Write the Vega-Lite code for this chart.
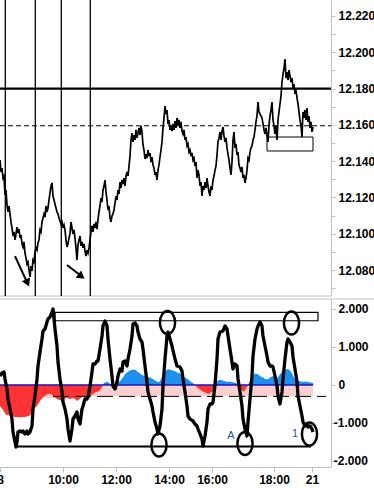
{
"$schema": "https://vega.github.io/schema/vega-lite/v6.json",
"width": 331, "height": 467,
"autosize": {"type": "none"},
"padding": {"left": 0, "top": 0, "right": 43, "bottom": 21},
"background": "white",
"config": {"view": {"stroke": null}, "axis": {"grid": false, "domainColor": "#bfbfbf", "tickColor": "#bfbfbf", "labelFont": "Liberation Sans", "labelFontWeight": "bold", "labelFontSize": 12, "labelColor": "#000000"}},
"datasets": {
"price": [{"x":0,"p":12.1406},{"x":1,"p":12.134},{"x":2,"p":12.1362},{"x":3,"p":12.1307},{"x":4,"p":12.1318},{"x":5,"p":12.1214},{"x":6,"p":12.1241},{"x":7,"p":12.1158},{"x":8,"p":12.112},{"x":9,"p":12.1153},{"x":10,"p":12.1109},{"x":11,"p":12.1065},{"x":12,"p":12.1032},{"x":13,"p":12.0988},{"x":14,"p":12.101},{"x":15,"p":12.0966},{"x":16,"p":12.0999},{"x":17,"p":12.1037},{"x":18,"p":12.1004},{"x":19,"p":12.1026},{"x":20,"p":12.0977},{"x":21,"p":12.0993},{"x":22,"p":12.0944},{"x":23,"p":12.0927},{"x":24,"p":12.0955},{"x":25,"p":12.0894},{"x":26,"p":12.0866},{"x":27,"p":12.0833},{"x":28,"p":12.0844},{"x":29,"p":12.08},{"x":30,"p":12.0762},{"x":31,"p":12.0822},{"x":32,"p":12.0795},{"x":33,"p":12.0855},{"x":34,"p":12.0844},{"x":35,"p":12.0899},{"x":36,"p":12.0922},{"x":37,"p":12.091},{"x":38,"p":12.0949},{"x":39,"p":12.0966},{"x":40,"p":12.1021},{"x":41,"p":12.101},{"x":42,"p":12.1065},{"x":43,"p":12.1087},{"x":44,"p":12.1109},{"x":45,"p":12.1092},{"x":46,"p":12.1153},{"x":47,"p":12.112},{"x":48,"p":12.1142},{"x":49,"p":12.1186},{"x":50,"p":12.1225},{"x":51,"p":12.1263},{"x":52,"p":12.128},{"x":53,"p":12.1208},{"x":54,"p":12.1186},{"x":55,"p":12.1164},{"x":56,"p":12.1142},{"x":57,"p":12.112},{"x":58,"p":12.1109},{"x":59,"p":12.1087},{"x":60,"p":12.107},{"x":61,"p":12.1054},{"x":62,"p":12.1065},{"x":63,"p":12.1032},{"x":64,"p":12.1048},{"x":65,"p":12.1021},{"x":66,"p":12.0966},{"x":67,"p":12.0927},{"x":68,"p":12.0944},{"x":69,"p":12.0977},{"x":70,"p":12.0999},{"x":71,"p":12.1065},{"x":72,"p":12.1032},{"x":73,"p":12.0999},{"x":74,"p":12.1021},{"x":75,"p":12.0977},{"x":76,"p":12.0922},{"x":77,"p":12.0855},{"x":78,"p":12.0938},{"x":79,"p":12.0966},{"x":80,"p":12.0988},{"x":81,"p":12.0933},{"x":82,"p":12.0955},{"x":83,"p":12.0922},{"x":84,"p":12.0944},{"x":85,"p":12.0905},{"x":86,"p":12.0877},{"x":87,"p":12.091},{"x":88,"p":12.0894},{"x":89,"p":12.0922},{"x":90,"p":12.0966},{"x":91,"p":12.101},{"x":92,"p":12.1043},{"x":93,"p":12.101},{"x":94,"p":12.1054},{"x":95,"p":12.1032},{"x":96,"p":12.1065},{"x":97,"p":12.1026},{"x":98,"p":12.1076},{"x":99,"p":12.112},{"x":100,"p":12.1153},{"x":101,"p":12.1197},{"x":102,"p":12.1175},{"x":103,"p":12.1241},{"x":104,"p":12.1263},{"x":105,"p":12.1296},{"x":106,"p":12.123},{"x":107,"p":12.1186},{"x":108,"p":12.1131},{"x":109,"p":12.1153},{"x":110,"p":12.1087},{"x":111,"p":12.1065},{"x":112,"p":12.1098},{"x":113,"p":12.1109},{"x":114,"p":12.1131},{"x":115,"p":12.1169},{"x":116,"p":12.1208},{"x":117,"p":12.1186},{"x":118,"p":12.1241},{"x":119,"p":12.1219},{"x":120,"p":12.1285},{"x":121,"p":12.1252},{"x":122,"p":12.1296},{"x":123,"p":12.1274},{"x":124,"p":12.1307},{"x":125,"p":12.1263},{"x":126,"p":12.1318},{"x":127,"p":12.134},{"x":128,"p":12.1318},{"x":129,"p":12.1373},{"x":130,"p":12.1428},{"x":131,"p":12.1517},{"x":132,"p":12.1555},{"x":133,"p":12.1506},{"x":134,"p":12.1544},{"x":135,"p":12.1517},{"x":136,"p":12.1572},{"x":137,"p":12.1528},{"x":138,"p":12.1555},{"x":139,"p":12.1583},{"x":140,"p":12.1544},{"x":141,"p":12.1594},{"x":142,"p":12.1561},{"x":143,"p":12.1489},{"x":144,"p":12.1461},{"x":145,"p":12.1412},{"x":146,"p":12.1439},{"x":147,"p":12.1417},{"x":148,"p":12.1461},{"x":149,"p":12.1428},{"x":150,"p":12.1445},{"x":151,"p":12.1395},{"x":152,"p":12.1423},{"x":153,"p":12.1379},{"x":154,"p":12.1362},{"x":155,"p":12.1324},{"x":156,"p":12.134},{"x":157,"p":12.1296},{"x":158,"p":12.1351},{"x":159,"p":12.1379},{"x":160,"p":12.1423},{"x":161,"p":12.1461},{"x":162,"p":12.1506},{"x":163,"p":12.1583},{"x":164,"p":12.1638},{"x":165,"p":12.1704},{"x":166,"p":12.166},{"x":167,"p":12.1682},{"x":168,"p":12.1605},{"x":169,"p":12.1627},{"x":170,"p":12.1572},{"x":171,"p":12.1594},{"x":172,"p":12.1566},{"x":173,"p":12.1605},{"x":174,"p":12.1572},{"x":175,"p":12.1621},{"x":176,"p":12.1583},{"x":177,"p":12.1638},{"x":178,"p":12.1599},{"x":179,"p":12.1627},{"x":180,"p":12.1583},{"x":181,"p":12.1616},{"x":182,"p":12.1566},{"x":183,"p":12.155},{"x":184,"p":12.1572},{"x":185,"p":12.1517},{"x":186,"p":12.1533},{"x":187,"p":12.1484},{"x":188,"p":12.1495},{"x":189,"p":12.145},{"x":190,"p":12.1461},{"x":191,"p":12.1428},{"x":192,"p":12.1445},{"x":193,"p":12.1406},{"x":194,"p":12.1417},{"x":195,"p":12.1373},{"x":196,"p":12.1395},{"x":197,"p":12.1307},{"x":198,"p":12.1351},{"x":199,"p":12.1324},{"x":200,"p":12.1263},{"x":201,"p":12.1285},{"x":202,"p":12.1208},{"x":203,"p":12.1263},{"x":204,"p":12.1241},{"x":205,"p":12.1285},{"x":206,"p":12.1252},{"x":207,"p":12.1307},{"x":208,"p":12.1263},{"x":209,"p":12.123},{"x":210,"p":12.1208},{"x":211,"p":12.1263},{"x":212,"p":12.1241},{"x":213,"p":12.1296},{"x":214,"p":12.1318},{"x":215,"p":12.1351},{"x":216,"p":12.1373},{"x":217,"p":12.1434},{"x":218,"p":12.1506},{"x":219,"p":12.1528},{"x":220,"p":12.1561},{"x":221,"p":12.1517},{"x":222,"p":12.1566},{"x":223,"p":12.1588},{"x":224,"p":12.1539},{"x":225,"p":12.1506},{"x":226,"p":12.1528},{"x":227,"p":12.1473},{"x":228,"p":12.1439},{"x":229,"p":12.1406},{"x":230,"p":12.1362},{"x":231,"p":12.1324},{"x":232,"p":12.1395},{"x":233,"p":12.1517},{"x":234,"p":12.1561},{"x":235,"p":12.1473},{"x":236,"p":12.1495},{"x":237,"p":12.1434},{"x":238,"p":12.145},{"x":239,"p":12.1379},{"x":240,"p":12.1362},{"x":241,"p":12.134},{"x":242,"p":12.1368},{"x":243,"p":12.1307},{"x":244,"p":12.1324},{"x":245,"p":12.128},{"x":246,"p":12.1307},{"x":247,"p":12.1351},{"x":248,"p":12.1417},{"x":249,"p":12.1406},{"x":250,"p":12.145},{"x":251,"p":12.1473},{"x":252,"p":12.1484},{"x":253,"p":12.1517},{"x":254,"p":12.1533},{"x":255,"p":12.1572},{"x":256,"p":12.1616},{"x":257,"p":12.1649},{"x":258,"p":12.1726},{"x":259,"p":12.1671},{"x":260,"p":12.166},{"x":261,"p":12.1649},{"x":262,"p":12.1638},{"x":263,"p":12.1605},{"x":264,"p":12.1572},{"x":265,"p":12.155},{"x":266,"p":12.1583},{"x":267,"p":12.1539},{"x":268,"p":12.1506},{"x":269,"p":12.1599},{"x":270,"p":12.1649},{"x":271,"p":12.1682},{"x":272,"p":12.1726},{"x":273,"p":12.1627},{"x":274,"p":12.1594},{"x":275,"p":12.155},{"x":276,"p":12.1594},{"x":277,"p":12.1517},{"x":278,"p":12.1627},{"x":279,"p":12.1671},{"x":280,"p":12.1715},{"x":281,"p":12.1759},{"x":282,"p":12.1836},{"x":283,"p":12.188},{"x":284,"p":12.1913},{"x":285,"p":12.1963},{"x":286,"p":12.1858},{"x":287,"p":12.1891},{"x":288,"p":12.1847},{"x":289,"p":12.1902},{"x":290,"p":12.1869},{"x":291,"p":12.1836},{"x":292,"p":12.1858},{"x":293,"p":12.1803},{"x":294,"p":12.1825},{"x":295,"p":12.177},{"x":296,"p":12.1792},{"x":297,"p":12.1748},{"x":298,"p":12.1715},{"x":299,"p":12.1671},{"x":300,"p":12.1627},{"x":301,"p":12.1594},{"x":302,"p":12.1533},{"x":303,"p":12.1671},{"x":304,"p":12.1638},{"x":305,"p":12.1682},{"x":306,"p":12.1627},{"x":307,"p":12.1693},{"x":308,"p":12.1616},{"x":309,"p":12.1649},{"x":310,"p":12.1583},{"x":311,"p":12.1616},{"x":312,"p":12.1561},{"x":313,"p":12.1588}],
"osc": [{"x":0,"v":0.237},{"x":2,"v":0.316},{"x":4,"v":0.342},{"x":5,"v":0.158},{"x":7,"v":-0.105},{"x":8,"v":-0.368},{"x":10,"v":-0.632},{"x":12,"v":-0.895},{"x":13,"v":-1.237},{"x":15,"v":-1.5},{"x":16,"v":-1.632},{"x":17,"v":-1.5},{"x":18,"v":-1.237},{"x":20,"v":-1.211},{"x":22,"v":-1.237},{"x":23,"v":-1.211},{"x":25,"v":-1.289},{"x":27,"v":-1.211},{"x":28,"v":-1.289},{"x":30,"v":-1.237},{"x":32,"v":-1.079},{"x":33,"v":-0.632},{"x":35,"v":-0.289},{"x":37,"v":0.158},{"x":38,"v":0.5},{"x":40,"v":0.868},{"x":42,"v":1.211},{"x":43,"v":1.421},{"x":45,"v":1.474},{"x":47,"v":1.658},{"x":48,"v":1.737},{"x":50,"v":1.789},{"x":52,"v":1.921},{"x":53,"v":2.0},{"x":54,"v":1.737},{"x":55,"v":1.474},{"x":57,"v":1.026},{"x":58,"v":0.605},{"x":60,"v":0.158},{"x":62,"v":-0.184},{"x":63,"v":-0.447},{"x":65,"v":-0.632},{"x":67,"v":-0.895},{"x":68,"v":-1.158},{"x":70,"v":-1.474},{"x":72,"v":-1.158},{"x":73,"v":-0.895},{"x":75,"v":-0.816},{"x":77,"v":-0.711},{"x":78,"v":-0.895},{"x":80,"v":-1.026},{"x":82,"v":-0.632},{"x":83,"v":-0.553},{"x":85,"v":-0.368},{"x":87,"v":-0.368},{"x":88,"v":-0.316},{"x":90,"v":-0.026},{"x":92,"v":0.342},{"x":93,"v":0.553},{"x":95,"v":0.553},{"x":97,"v":0.632},{"x":98,"v":0.632},{"x":100,"v":0.947},{"x":102,"v":1.289},{"x":103,"v":1.553},{"x":105,"v":1.684},{"x":107,"v":1.553},{"x":108,"v":1.211},{"x":110,"v":0.684},{"x":112,"v":0.237},{"x":113,"v":-0.026},{"x":115,"v":-0.105},{"x":117,"v":0.079},{"x":118,"v":0.237},{"x":120,"v":0.421},{"x":122,"v":0.368},{"x":123,"v":0.605},{"x":125,"v":0.632},{"x":127,"v":0.5},{"x":128,"v":0.684},{"x":130,"v":0.947},{"x":132,"v":1.289},{"x":133,"v":1.605},{"x":135,"v":1.632},{"x":137,"v":1.553},{"x":138,"v":1.395},{"x":140,"v":1.211},{"x":142,"v":1.132},{"x":143,"v":0.947},{"x":145,"v":0.5},{"x":147,"v":0.079},{"x":148,"v":-0.184},{"x":150,"v":-0.368},{"x":152,"v":-0.553},{"x":153,"v":-0.711},{"x":155,"v":-0.974},{"x":157,"v":-1.158},{"x":158,"v":-1.289},{"x":160,"v":-1.079},{"x":162,"v":-0.632},{"x":163,"v":-0.026},{"x":165,"v":0.684},{"x":167,"v":1.289},{"x":168,"v":1.395},{"x":170,"v":1.211},{"x":172,"v":1.026},{"x":175,"v":0.684},{"x":177,"v":0.5},{"x":180,"v":0.474},{"x":182,"v":0.368},{"x":183,"v":0.158},{"x":185,"v":-0.184},{"x":187,"v":-0.553},{"x":188,"v":-0.816},{"x":190,"v":-0.895},{"x":193,"v":-0.947},{"x":195,"v":-1.026},{"x":197,"v":-1.079},{"x":198,"v":-1.158},{"x":200,"v":-1.289},{"x":202,"v":-1.421},{"x":203,"v":-1.605},{"x":205,"v":-1.342},{"x":207,"v":-0.974},{"x":208,"v":-0.632},{"x":210,"v":-0.5},{"x":212,"v":-0.5},{"x":213,"v":-0.447},{"x":215,"v":0},{"x":217,"v":0.684},{"x":218,"v":1.211},{"x":220,"v":1.395},{"x":223,"v":1.421},{"x":225,"v":1.553},{"x":227,"v":1.474},{"x":228,"v":1.289},{"x":230,"v":0.947},{"x":232,"v":0.605},{"x":233,"v":0.421},{"x":235,"v":0.553},{"x":237,"v":0.5},{"x":238,"v":0.158},{"x":240,"v":-0.184},{"x":242,"v":-0.553},{"x":243,"v":-0.895},{"x":245,"v":-1.158},{"x":247,"v":-1.342},{"x":248,"v":-0.974},{"x":250,"v":-0.368},{"x":252,"v":0.237},{"x":253,"v":0.763},{"x":255,"v":1.211},{"x":257,"v":1.474},{"x":258,"v":1.553},{"x":260,"v":1.658},{"x":262,"v":1.553},{"x":263,"v":1.289},{"x":265,"v":1.026},{"x":267,"v":0.763},{"x":268,"v":0.605},{"x":270,"v":0.5},{"x":272,"v":0.5},{"x":273,"v":0.474},{"x":275,"v":0.237},{"x":277,"v":-0.026},{"x":278,"v":-0.289},{"x":280,"v":-0.5},{"x":282,"v":-0.184},{"x":283,"v":0.158},{"x":285,"v":0.684},{"x":287,"v":1.132},{"x":288,"v":1.211},{"x":290,"v":1.132},{"x":292,"v":1.026},{"x":293,"v":0.737},{"x":295,"v":0.421},{"x":297,"v":0.079},{"x":298,"v":-0.289},{"x":300,"v":-0.553},{"x":302,"v":-0.816},{"x":303,"v":-0.974},{"x":305,"v":-1.079},{"x":307,"v":-1.026},{"x":308,"v":-1.105},{"x":310,"v":-1.079},{"x":312,"v":-1.158},{"x":313,"v":-1.237}],
"histneg": [{"x":0,"v":-0.55},{"x":3,"v":-0.65},{"x":6,"v":-0.78},{"x":10,"v":-0.8},{"x":15,"v":-0.84},{"x":20,"v":-0.85},{"x":25,"v":-0.84},{"x":30,"v":-0.8},{"x":33,"v":-0.7},{"x":35,"v":-0.6},{"x":37,"v":-0.55},{"x":40,"v":-0.42},{"x":43,"v":-0.32},{"x":45,"v":-0.28},{"x":48,"v":-0.24},{"x":50,"v":-0.23},{"x":53,"v":-0.28},{"x":55,"v":-0.33},{"x":57,"v":-0.37},{"x":60,"v":-0.4},{"x":63,"v":-0.42},{"x":65,"v":-0.36},{"x":67,"v":-0.33},{"x":70,"v":-0.38},{"x":72,"v":-0.34},{"x":75,"v":-0.36},{"x":77,"v":-0.42},{"x":80,"v":-0.36},{"x":83,"v":-0.3},{"x":85,"v":-0.28},{"x":88,"v":-0.3},{"x":90,"v":-0.3},{"x":93,"v":-0.24},{"x":95,"v":-0.2},{"x":98,"v":-0.17},{"x":100,"v":-0.14},{"x":102,"v":-0.06},{"x":102.5,"v":0},{"x":195,"v":0},{"x":197,"v":-0.06},{"x":200,"v":-0.12},{"x":203,"v":-0.18},{"x":205,"v":-0.2},{"x":208,"v":-0.24},{"x":210,"v":-0.22},{"x":213,"v":-0.16},{"x":215,"v":-0.05},{"x":216,"v":0},{"x":239,"v":0},{"x":240,"v":-0.08},{"x":242,"v":-0.15},{"x":244,"v":-0.17},{"x":246,"v":-0.1},{"x":248,"v":0}],
"histpos": [{"x":102.5,"v":0},{"x":103,"v":0.02},{"x":105,"v":0.07},{"x":108,"v":0.08},{"x":110,"v":0.03},{"x":113,"v":0.0},{"x":115,"v":0.02},{"x":118,"v":0.08},{"x":120,"v":0.1},{"x":123,"v":0.2},{"x":125,"v":0.28},{"x":128,"v":0.35},{"x":130,"v":0.38},{"x":133,"v":0.41},{"x":135,"v":0.4},{"x":138,"v":0.34},{"x":140,"v":0.3},{"x":143,"v":0.25},{"x":145,"v":0.24},{"x":148,"v":0.22},{"x":150,"v":0.2},{"x":153,"v":0.16},{"x":155,"v":0.12},{"x":158,"v":0.07},{"x":160,"v":0.1},{"x":162,"v":0.22},{"x":165,"v":0.35},{"x":168,"v":0.42},{"x":170,"v":0.4},{"x":173,"v":0.38},{"x":175,"v":0.36},{"x":177,"v":0.33},{"x":180,"v":0.3},{"x":183,"v":0.25},{"x":185,"v":0.2},{"x":188,"v":0.15},{"x":190,"v":0.1},{"x":193,"v":0.05},{"x":195,"v":0},{"x":216,"v":0},{"x":217,"v":0.1},{"x":220,"v":0.14},{"x":223,"v":0.12},{"x":225,"v":0.1},{"x":228,"v":0.08},{"x":230,"v":0.09},{"x":233,"v":0.07},{"x":235,"v":0.06},{"x":238,"v":0.03},{"x":239,"v":0},{"x":248,"v":0},{"x":250,"v":0.12},{"x":253,"v":0.25},{"x":255,"v":0.3},{"x":258,"v":0.28},{"x":260,"v":0.24},{"x":263,"v":0.2},{"x":265,"v":0.16},{"x":268,"v":0.15},{"x":270,"v":0.2},{"x":273,"v":0.24},{"x":275,"v":0.22},{"x":278,"v":0.2},{"x":280,"v":0.28},{"x":283,"v":0.36},{"x":285,"v":0.4},{"x":288,"v":0.42},{"x":290,"v":0.38},{"x":292,"v":0.3},{"x":294,"v":0.2},{"x":296,"v":0.14},{"x":298,"v":0.12},{"x":300,"v":0.1},{"x":303,"v":0.08},{"x":306,"v":0.09},{"x":309,"v":0.07},{"x":311,"v":0.06},{"x":313,"v":0.05},{"x":313.5,"v":0}],
"pink": [{"x":0,"v":-0.3},{"x":40,"v":-0.31},{"x":44,"v":-0.34},{"x":56,"v":-0.34},{"x":60,"v":-0.3},{"x":100,"v":-0.29},{"x":313,"v":-0.29}]
},
"layer": [
{
"encoding": {
 "x": {"field": "x", "type": "quantitative", "title": null, "scale": {"domain": [0, 331], "nice": false, "zero": false},
  "axis": {"orient": "bottom", "values": [0, 63, 116, 169, 212, 274, 312], "labelExpr": "datum.value == 0 ? '8' : datum.value == 63 ? '10:00' : datum.value == 116 ? '12:00' : datum.value == 169 ? '14:00' : datum.value == 212 ? '16:00' : datum.value == 274 ? '18:00' : '21'", "tickSize": 5, "labelPadding": 2, "labelFlush": false, "labelOverlap": false, "labelBound": false}},
 "y": {"field": "p", "type": "quantitative", "title": null, "scale": {"domain": [12.0657, 12.2288], "range": [296, 0], "nice": false, "zero": false},
  "axis": {"orient": "right", "values": [12.07, 12.08, 12.09, 12.1, 12.11, 12.12, 12.13, 12.14, 12.15, 12.16, 12.17, 12.18, 12.19, 12.2, 12.21, 12.22], "labelExpr": "round(datum.value*1000) % 20 == 0 ? format(datum.value, '.3f') : ''", "tickSize": 4, "labelPadding": 3, "labelOverlap": false, "labelBound": false}}
},
"layer": [
 {"data": {"values": [{"x": 0, "x2": 331, "p": 12.0657}]}, "mark": {"type": "rule", "color": "#bfbfbf", "strokeWidth": 1}, "encoding": {"x2": {"field": "x2"}}},
 {"data": {"values": [{"x": 5.3, "p": 12.2288, "p2": 12.0657}, {"x": 35.3, "p": 12.2288, "p2": 12.0657}, {"x": 61.3, "p": 12.2288, "p2": 12.0657}, {"x": 90.3, "p": 12.2288, "p2": 12.0657}]}, "mark": {"type": "rule", "color": "#000000", "strokeWidth": 1.3}, "encoding": {"y2": {"field": "p2"}}},
 {"data": {"values": [{"x": 0, "x2": 331, "p": 12.18}]}, "mark": {"type": "rule", "color": "#000000", "strokeWidth": 2.2}, "encoding": {"x2": {"field": "x2"}}},
 {"data": {"values": [{"x": 0, "x2": 331, "p": 12.1595}]}, "mark": {"type": "rule", "color": "#000000", "strokeWidth": 1, "strokeDash": [5, 3]}, "encoding": {"x2": {"field": "x2"}}},
 {"data": {"values": [{"x": 267, "x2": 313, "p": 12.1533, "p2": 12.1456}]}, "mark": {"type": "rect", "fill": null, "stroke": "#000000", "strokeWidth": 1}, "encoding": {"x2": {"field": "x2"}, "y2": {"field": "p2"}}},
 {"data": {"name": "price"}, "mark": {"type": "line", "color": "#000000", "strokeWidth": 1.7}},
 {"data": {"values": [{"x": 15, "p": 12.0877, "a": "1"}, {"x": 26, "p": 12.0745, "a": "1"}, {"x": 67, "p": 12.0828, "a": "2"}, {"x": 80, "p": 12.0773, "a": "2"}]}, "mark": {"type": "line", "color": "#000000", "strokeWidth": 2}, "encoding": {"detail": {"field": "a"}}},
 {"data": {"values": [{"x": 27.5, "p": 12.0729}]}, "mark": {"type": "point", "shape": "triangle-down", "size": 80, "angle": -24, "filled": true, "color": "#000000", "opacity": 1}},
 {"data": {"values": [{"x": 81.5, "p": 12.0765}]}, "mark": {"type": "point", "shape": "triangle-down", "size": 80, "angle": -53, "filled": true, "color": "#000000", "opacity": 1}}
]
},
{
"encoding": {
 "x": {"field": "x", "type": "quantitative", "title": null, "scale": {"domain": [0, 331], "nice": false, "zero": false},
  "axis": {"orient": "bottom", "values": [0, 63, 116, 169, 212, 274, 312], "labelExpr": "datum.value == 0 ? '8' : datum.value == 63 ? '10:00' : datum.value == 116 ? '12:00' : datum.value == 169 ? '14:00' : datum.value == 212 ? '16:00' : datum.value == 274 ? '18:00' : '21'", "tickSize": 5, "labelPadding": 2, "labelFlush": false, "labelOverlap": false, "labelBound": false}},
 "y": {"field": "v", "type": "quantitative", "title": null, "scale": {"domain": [-2.158, 2.263], "range": [467, 299], "nice": false, "zero": false},
  "axis": {"orient": "right", "values": [-2, -1, 0, 1, 2], "labelExpr": "datum.value == 2 ? '2.000' : datum.value == 1 ? '1.000' : datum.value == 0 ? '0' : datum.value == -1 ? '-1.000' : '-2.000'", "tickSize": 4, "labelPadding": {"condition": {"test": "datum.value < 0", "value": -1.7}, "value": 3}, "labelOverlap": false, "labelBound": false}}
},
"layer": [
 {"data": {"values": [{"x": 0, "x2": 380, "v": 2.263}]}, "mark": {"type": "rule", "color": "#bfbfbf", "strokeWidth": 1, "clip": false}, "encoding": {"x2": {"field": "x2"}}},
 {"data": {"name": "pink"}, "mark": {"type": "area", "color": "#ffcfcf", "opacity": 1}, "encoding": {"y2": {"datum": 0}}},
 {"data": {"name": "histneg"}, "mark": {"type": "area", "color": "#ff3333", "opacity": 1}, "encoding": {"y2": {"datum": 0}}},
 {"data": {"name": "histpos"}, "mark": {"type": "area", "color": "#1e8fef", "opacity": 1}, "encoding": {"y2": {"datum": 0}}},
 {"data": {"values": [{"x": 53, "x2": 326, "v": -0.3}]}, "mark": {"type": "rule", "color": "#000000", "strokeWidth": 1, "strokeDash": [16, 6]}, "encoding": {"x2": {"field": "x2"}}},
 {"data": {"values": [{"x": 0, "x2": 313, "v": 0}]}, "mark": {"type": "rule", "color": "#1414c8", "strokeWidth": 1.5}, "encoding": {"x2": {"field": "x2"}}},
 {"data": {"values": [{"x": 17, "x2": 311, "v": -1.62}]}, "mark": {"type": "rule", "color": "#000000", "strokeWidth": 2}, "encoding": {"x2": {"field": "x2"}}},
 {"data": {"values": [{"x": 55, "x2": 318, "v": 1.91, "v2": 1.69}]}, "mark": {"type": "rect", "fill": null, "stroke": "#000000", "strokeWidth": 1.2}, "encoding": {"x2": {"field": "x2"}, "y2": {"field": "v2"}}},
 {"data": {"name": "osc"}, "mark": {"type": "line", "color": "#000000", "strokeWidth": 3.3, "strokeJoin": "round"}},
 {"data": {"values": [{"x": 167.5, "v": 1.645}, {"x": 291.5, "v": 1.63}, {"x": 159, "v": -1.579}, {"x": 245, "v": -1.539}, {"x": 309.5, "v": -1.289}]}, "mark": {"type": "point", "shape": "M-0.66,0A0.66,1,0,1,0,0.66,0A0.66,1,0,1,0,-0.66,0Z", "size": 529, "filled": false, "color": "#000000", "strokeWidth": 2.5, "opacity": 1}},
 {"data": {"values": [{"x": 231, "v": -1.33, "t": "A"}, {"x": 295, "v": -1.29, "t": "1"}]}, "mark": {"type": "text", "font": "Liberation Sans", "fontSize": 11, "color": "#2a55a5"}, "encoding": {"text": {"field": "t"}}}
]
}
],
"resolve": {"scale": {"y": "independent"}, "axis": {"y": "independent"}}
}
